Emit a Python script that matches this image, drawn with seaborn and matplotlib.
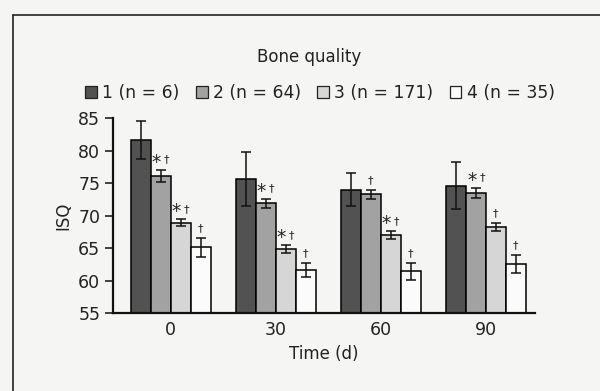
import matplotlib
matplotlib.use("Agg")
import matplotlib.pyplot as plt
from matplotlib.lines import Line2D
from matplotlib.patches import Patch
import seaborn as sns
import pandas as pd
import numpy as np

# ---- data ----
times = ["0", "30", "60", "90"]
groups = ["1 (n = 6)", "2 (n = 64)", "3 (n = 171)", "4 (n = 35)"]
means = {
    "1 (n = 6)":   [81.6, 75.6, 74.0, 74.6],
    "2 (n = 64)":  [76.1, 71.9, 73.3, 73.5],
    "3 (n = 171)": [68.9, 64.8, 67.0, 68.2],
    "4 (n = 35)":  [65.1, 61.6, 61.4, 62.5],
}
errors = {
    "1 (n = 6)":   [2.9, 4.2, 2.5, 3.6],
    "2 (n = 64)":  [0.9, 0.7, 0.7, 0.75],
    "3 (n = 171)": [0.5, 0.6, 0.6, 0.6],
    "4 (n = 35)":  [1.5, 1.1, 1.3, 1.4],
}
marks = {
    "1 (n = 6)":   ["", "", "", ""],
    "2 (n = 64)":  ["*†", "*†", "†", "*†"],
    "3 (n = 171)": ["*†", "*†", "*†", "†"],
    "4 (n = 35)":  ["†", "†", "†", "†"],
}
colors = ["#525252", "#a2a2a2", "#d6d6d6", "#fbfbfb"]

rows = []
for g in groups:
    for t, m in zip(times, means[g]):
        rows.append({"Time": t, "Group": g, "ISQ": m})
df = pd.DataFrame(rows)

sns.set_theme(style="white")
plt.rcParams["font.family"] = ["DejaVu Sans"]
bg = "#f5f5f3"
tc = "#222222"

fig = plt.figure(figsize=(6.0, 3.91), dpi=100, facecolor=bg)
ax = fig.add_axes([0.188, 0.1995, 0.704, 0.4985], facecolor=bg)

sns.barplot(data=df, x="Time", y="ISQ", hue="Group", order=times,
            hue_order=groups, palette=colors, width=0.76, errorbar=None,
            edgecolor="black", linewidth=1.1, saturation=1, ax=ax, legend=False)

for g, cont in zip(groups, ax.containers):
    for i, bar in enumerate(cont):
        xc = bar.get_x() + bar.get_width() / 2
        h = bar.get_height()
        e = errors[g][i]
        ax.errorbar(xc, h, yerr=e, fmt="none", ecolor="#111111",
                    elinewidth=1.1, capsize=3.5, capthick=1.1)
        mk = marks[g][i]
        top = h + e
        if mk == "*†":
            ax.annotate("*", (xc, top), xytext=(-3, 5.5), textcoords="offset points",
                        ha="center", va="center", fontsize=13.5, color=tc)
            ax.annotate("†", (xc, top), xytext=(4.5, 7.5), textcoords="offset points",
                        ha="center", va="center", fontsize=8, color=tc)
        elif mk == "†":
            ax.annotate("†", (xc, top), xytext=(0, 7), textcoords="offset points",
                        ha="center", va="center", fontsize=8, color=tc)

ax.set_ylim(55, 85)
ax.set_yticks([55, 60, 65, 70, 75, 80, 85])
ax.set_xlim(-0.55, 3.47)
ax.set_xlabel("Time (d)", fontsize=12, color=tc, labelpad=4)
ax.set_ylabel("ISQ", fontsize=12, color=tc, labelpad=4)
ax.tick_params(axis="y", length=6, width=1.2, direction="out", left=True,
               labelsize=12.5, colors=tc, pad=3)
ax.tick_params(axis="x", length=0, labelsize=12.5, colors=tc, pad=6)
sns.despine(ax=ax, top=True, right=True)
for s in ["left", "bottom"]:
    ax.spines[s].set_color("#111111")
    ax.spines[s].set_linewidth(1.6)

handles = [Patch(facecolor=c, edgecolor=tc, linewidth=0.9) for c in colors]
fig.legend(handles, groups, loc="center", bbox_to_anchor=(0.533, 0.762), ncol=4,
           frameon=False, fontsize=12.3, handlelength=0.7, handleheight=0.7,
           handletextpad=0.3, columnspacing=0.95, labelcolor=tc)
fig.text(0.515, 0.854, "Bone quality", ha="center", va="center", fontsize=12,
         color=tc)

# scanned frame lines
fig.add_artist(Line2D([13/600, 13/600], [0, 1 - 15/391], color=tc, lw=1.2))
fig.add_artist(Line2D([13/600, 1], [1 - 15/391, 1 - 15/391], color=tc, lw=1.2))

fig.savefig("out.png", dpi=100, facecolor=bg)
